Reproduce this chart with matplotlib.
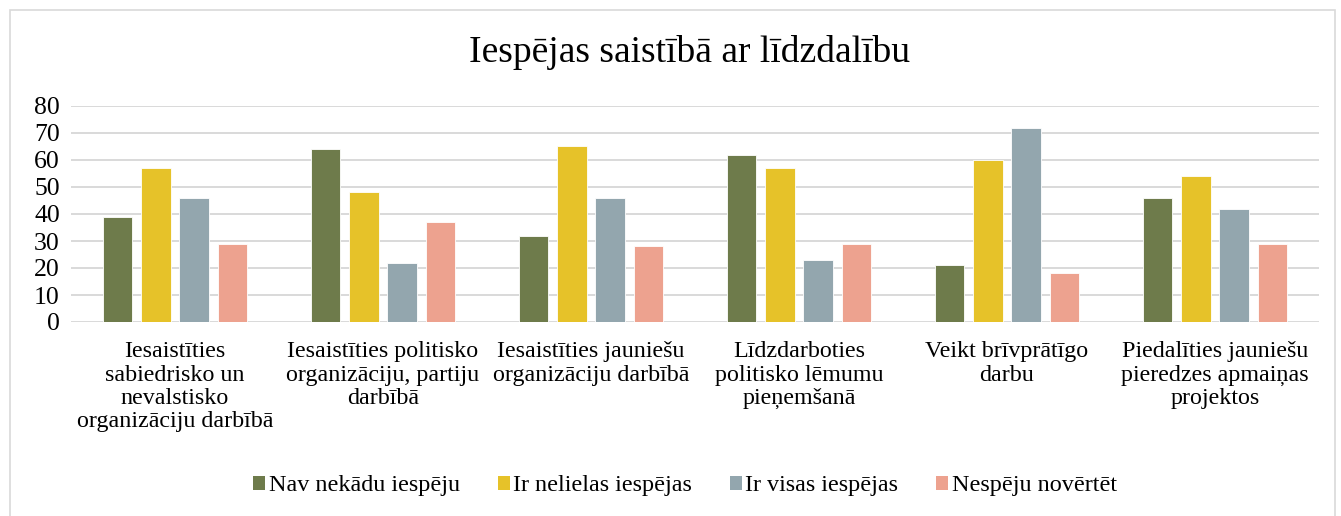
import numpy as np
import matplotlib
matplotlib.use('Agg')
import matplotlib.pyplot as plt
from matplotlib.patches import Rectangle, Patch

plt.rcParams['font.family'] = ['Liberation Serif', 'DejaVu Serif']

categories = [
    'Iesaistīties\nsabiedrisko un\nnevalstisko\norganizāciju darbībā',
    'Iesaistīties politisko\norganizāciju, partiju\ndarbībā',
    'Iesaistīties jauniešu\norganizāciju darbībā',
    'Līdzdarboties\npolitisko lēmumu\npieņemšanā',
    'Veikt brīvprātīgo\ndarbu',
    'Piedalīties jauniešu\npieredzes apmaiņas\nprojektos',
]
series_names = ['Nav nekādu iespēju', 'Ir nelielas iespējas', 'Ir visas iespējas', 'Nespēju novērtēt']
nav_nekadu = [39, 64, 32, 62, 21, 46]
ir_nelielas = [57, 48, 65, 57, 60, 54]
ir_visas = [46, 22, 46, 23, 72, 42]
nespeju = [29, 37, 28, 29, 18, 29]
colors = ['#6E7B4B', '#E6C229', '#93A6AE', '#EDA28F']

W, H = 1341, 516
fig = plt.figure(figsize=(W / 100, H / 100), dpi=100)

# chart frame
fig.patches.append(Rectangle((10 / W, -0.01), 1325 / W, 1 - 10 / H + 0.01,
                             transform=fig.transFigure, fill=False,
                             edgecolor='#D9D9D9', linewidth=1.2))

ax = fig.add_axes([71 / W, (H - 322) / H, (1319 - 71) / W, (322 - 106) / H])

x = np.arange(len(categories))
step = 0.183
width = 0.14
for k, (vals, col) in enumerate(zip([nav_nekadu, ir_nelielas, ir_visas, nespeju], colors)):
    ax.bar(x + (k - 1.5) * step, vals, width, color=col, edgecolor='white',
           linewidth=0.6, zorder=3)

ax.set_xlim(-0.5, len(categories) - 0.5)
ax.set_ylim(0, 80)
ax.set_yticks(range(0, 81, 10))
ax.yaxis.grid(True, color='#D9D9D9', linewidth=1.4, zorder=0)
ax.set_axisbelow(True)
for s in ax.spines.values():
    s.set_visible(False)
ax.tick_params(axis='both', length=0)
ax.tick_params(axis='y', pad=8, labelsize=18.5)
ax.set_xticks(x)
ax.set_xticklabels(categories, fontsize=17.3, linespacing=1.13)
ax.tick_params(axis='x', pad=14)

fig.text(690 / W, 1 - 53 / H, 'Iespējas saistībā ar līdzdalību', ha='center',
         va='center', fontsize=27)

handles = [Patch(facecolor=c, edgecolor='none') for c in colors]
fig.legend(handles, series_names, loc='center', bbox_to_anchor=(685 / W, 1 - 486 / H),
           ncol=4, frameon=False, fontsize=17.4, handlelength=0.5, handleheight=0.5,
           handletextpad=0.15, columnspacing=1.55)

fig.savefig('out.png', dpi=100)
